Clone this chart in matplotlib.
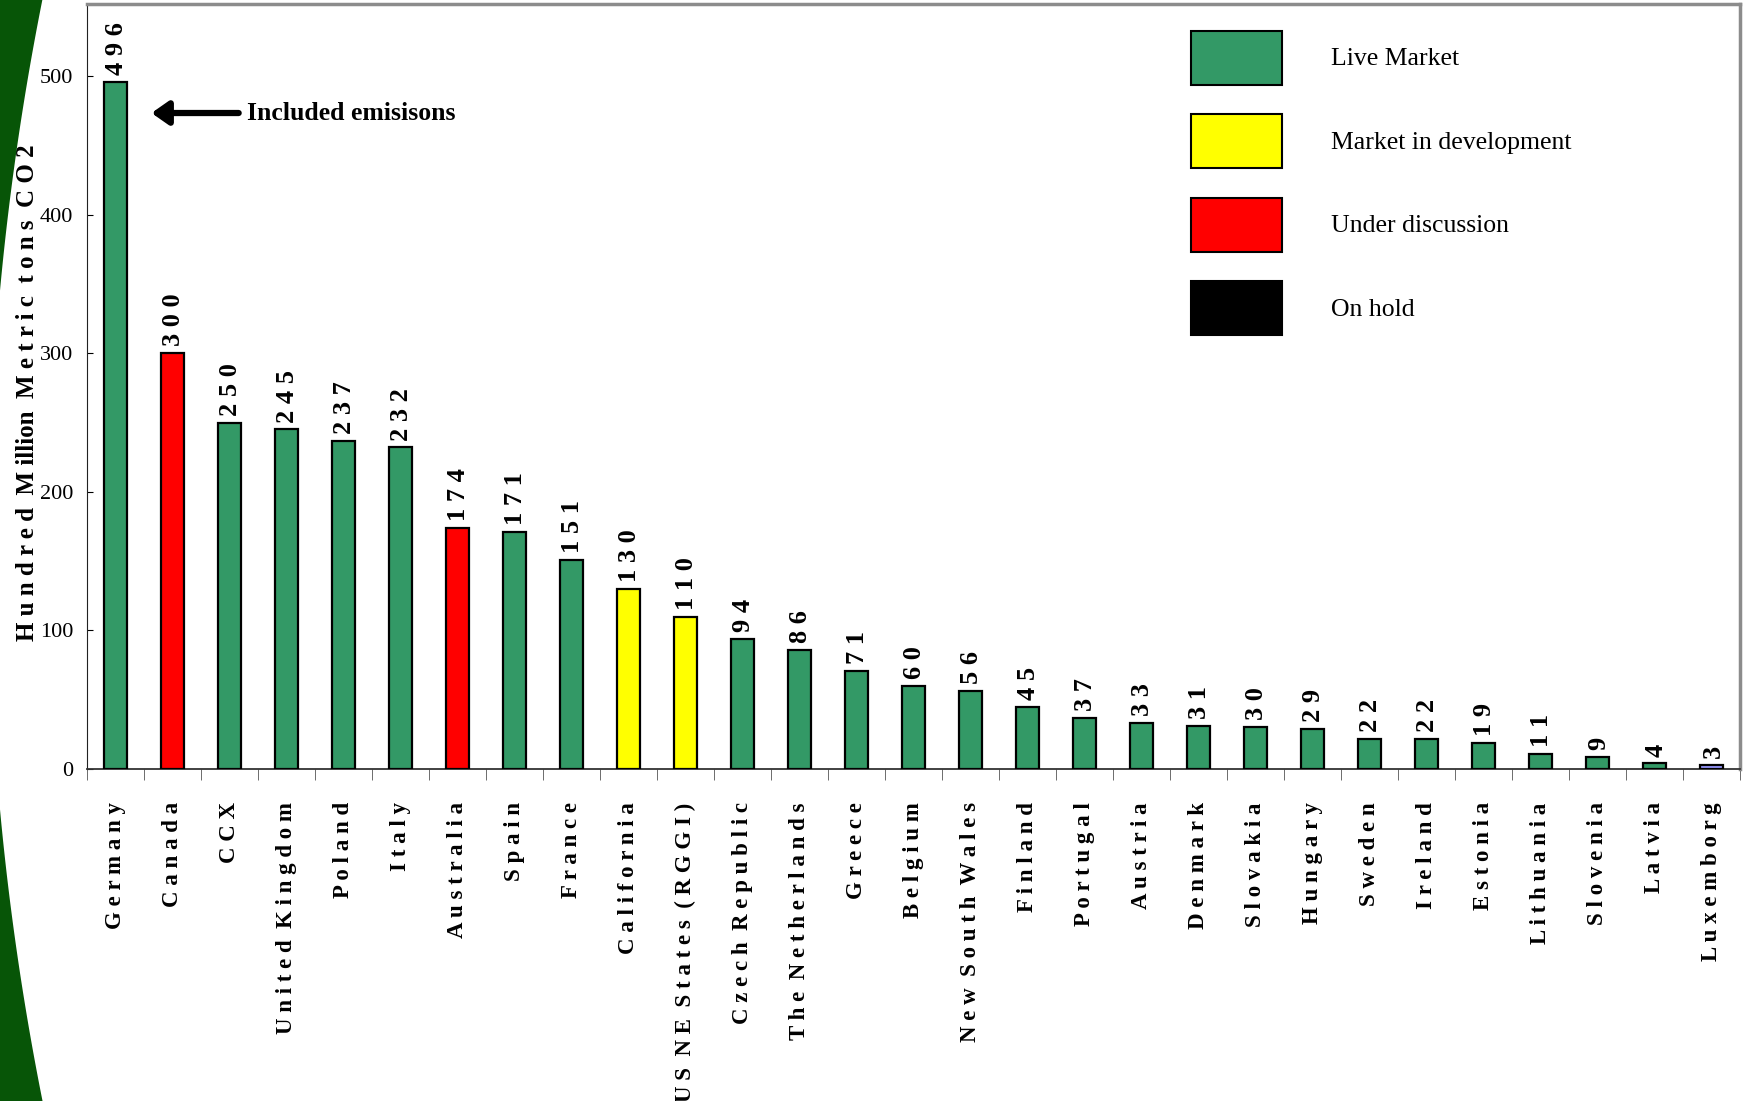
import numpy as np
import matplotlib.pyplot as plt
from matplotlib.patches import Patch, Polygon

# ------------------------------------------------------------
# Datos (cientos de millones de toneladas de CO2)
# ------------------------------------------------------------
regions = ["Germany", "Canada", "CCX", "United Kingdom", "Poland", "Italy",
           "Australia", "Spain", "France", "California", "US NE States (RGGI)",
           "Czech Republic", "The Netherlands", "Greece", "Belgium",
           "New South Wales", "Finland", "Portugal", "Austria", "Denmark",
           "Slovakia", "Hungary", "Sweden", "Ireland", "Estonia", "Lithuania",
           "Slovenia", "Latvia", "Luxemborg"]

emissions = [496, 300, 250, 245, 237, 232, 174, 171, 151, 130, 110, 94, 86,
             71, 60, 56, 45, 37, 33, 31, 30, 29, 22, 22, 19, 11, 9, 4, 3]

status = ["live", "discussion", "live", "live", "live", "live", "discussion",
          "live", "live", "development", "development", "live", "live", "live",
          "live", "live", "live", "live", "live", "live", "live", "live", "live",
          "live", "live", "live", "live", "live", "other"]

legend_keys = ["live", "development", "discussion", "hold"]
legend_labels = ["Live Market", "Market in development", "Under discussion", "On hold"]

colors = {"live": "#339966", "development": "#FFFF00", "discussion": "#FF0000",
          "hold": "#000000", "other": "#9999FF"}


def spaced(s):
    # letras separadas, como en el original
    return "  ".join(" ".join(w) for w in s.split())


serif = "Liberation Serif"
W, H = 1744, 1101

fig = plt.figure(figsize=(W / 100, H / 100), dpi=100)

# franja verde decorativa a la izquierda
cx, cy, R = 2799.0, 550.0, 2811.0
ys = np.linspace(-10, H + 10, 200)
xs = cx - np.sqrt(R ** 2 - (ys - cy) ** 2)
pts = [(-20 / W, 1 + 10 / H)] + [(x / W, 1 - y / H) for x, y in zip(xs, ys)] + [(-20 / W, -10 / H)]
fig.patches.append(Polygon(pts, closed=True, transform=fig.transFigure,
                           facecolor="#075507", edgecolor="none", zorder=0))

ax = fig.add_axes([87 / W, 1 - 769 / H, (1740 - 87) / W, (769 - 4) / H])

x = np.arange(len(regions))
ax.bar(x, emissions, width=0.42, color=[colors[s] for s in status],
       edgecolor="black", linewidth=1.6, zorder=3)

for xi, v in zip(x, emissions):
    ax.annotate(spaced(str(v)), (xi, v), xytext=(1, 5), textcoords="offset points",
                rotation=90, ha="center", va="bottom", fontsize=19,
                fontweight="bold", family=serif)

ax.set_xlim(-0.5, len(regions) - 0.5)
ax.set_ylim(0, 552)
ax.set_yticks([0, 100, 200, 300, 400, 500])
ax.tick_params(axis="y", direction="in", length=4, pad=10, labelsize=16,
               colors="black")
for lab in ax.get_yticklabels():
    lab.set_family(serif)

ax.set_xticks(x)
ax.set_xticklabels([spaced(r) for r in regions], rotation=90, ha="center",
                   va="top", fontsize=16.5, fontweight="bold", family=serif)
ax.tick_params(axis="x", which="major", length=0, pad=24)
ax.set_xticks(np.arange(-0.5, len(regions), 1), minor=True)
ax.tick_params(axis="x", which="minor", length=8, direction="out", color="#555555")

ax.set_ylabel("H u n d r e d  M illion  M e t r i c  t o n s  C O 2",
              fontsize=18, fontweight="bold", family=serif)
ax.yaxis.set_label_coords(-(87 - 39) / (1740 - 87), (769 - 393) / (769 - 4))

for side in ["top", "right"]:
    ax.spines[side].set_color("#8c8c8c")
    ax.spines[side].set_linewidth(2.5)
ax.spines["left"].set_color("#222222")
ax.spines["bottom"].set_color("#333333")
ax.spines["bottom"].set_linewidth(1.3)

# flecha de anotación
ax.annotate("Included emisisons", xy=(0.039, 0.8575), xytext=(0.0968, 0.8575),
            xycoords="axes fraction", textcoords="axes fraction",
            ha="left", va="center", fontsize=18.5, fontweight="bold", family=serif,
            arrowprops=dict(arrowstyle="-|>,head_length=0.5,head_width=0.35",
                            mutation_scale=20, lw=4.5, color="black",
                            shrinkA=4, shrinkB=0))

handles = [Patch(facecolor=colors[k], edgecolor="black", linewidth=1.5) for k in legend_keys]
ax.legend(handles, legend_labels, loc="upper left", bbox_to_anchor=(0.668, 0.965),
          frameon=False, prop={"family": serif, "size": 18.5},
          handlelength=3.55, handleheight=2.85, labelspacing=1.15,
          handletextpad=1.9, borderpad=0, borderaxespad=0)

fig.savefig("out.png", dpi=100)
